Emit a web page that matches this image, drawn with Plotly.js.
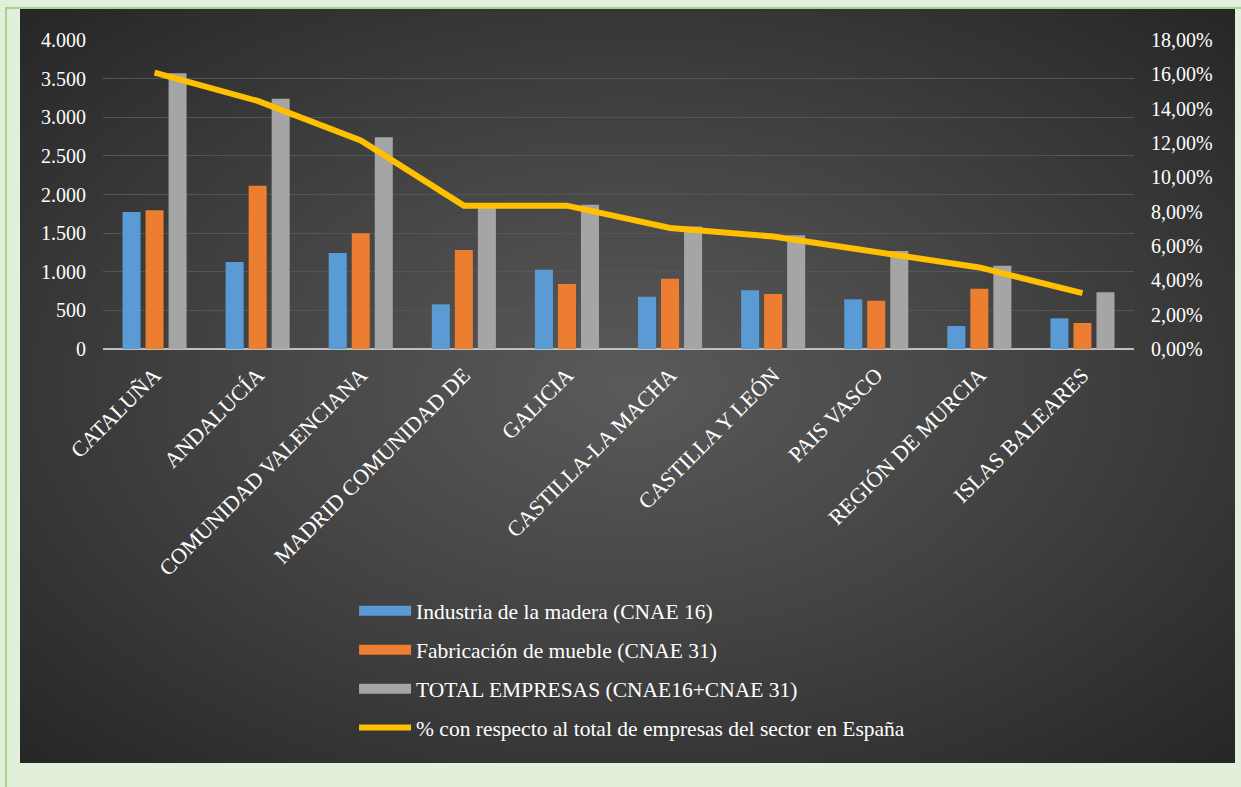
<!DOCTYPE html>
<html>
<head>
<meta charset="utf-8">
<script src="https://cdn.plot.ly/plotly-3.0.1.min.js"></script>
<style>
html,body{margin:0;padding:0;}
#wrap{position:relative;width:1241px;height:787px;background:#e2efda;overflow:hidden;}
#topline{position:absolute;left:5px;top:7px;width:1236px;height:2px;background:#a9d08e;}
#leftline{position:absolute;left:5px;top:7px;width:2px;height:780px;background:#a9d08e;}
#dark{position:absolute;left:20px;top:9px;width:1215px;height:754px;
 background:radial-gradient(ellipse at 50% 50%, #5a5a5a 0%, #444 45%, #262626 100%);}
#chart{position:absolute;left:0;top:0;width:1241px;height:787px;}
</style>
</head>
<body>
<div id="wrap">
<div id="topline"></div>
<div id="leftline"></div>
<div id="dark"></div>
<div id="chart"></div>
</div>
<script>
const categories = ["CATALUÑA","ANDALUCÍA","COMUNIDAD VALENCIANA","MADRID COMUNIDAD DE","GALICIA","CASTILLA-LA MACHA","CASTILLA Y LEÓN","PAIS VASCO","REGIÓN DE MURCIA","ISLAS BALEARES"];
const madera = [1773,1126,1243,578,1027,677,760,643,298,397];
const mueble = [1795,2114,1497,1282,841,910,712,625,781,337];
const total = [3568,3240,2740,1860,1868,1587,1472,1268,1079,734];
const porcentaje = [0.161,0.1445,0.1215,0.0835,0.0835,0.0705,0.0655,0.0565,0.0475,0.0325];
const seriesNames = ["Industria de la madera (CNAE 16)","Fabricación de mueble (CNAE 31)","TOTAL EMPRESAS (CNAE16+CNAE 31)","% con respecto al total de empresas del sector en España"];
const colors = ["#5b9bd5","#ed7d31","#a5a5a5","#ffc000"];

const font = "Times New Roman, Liberation Serif, DejaVu Serif, serif";
const barData = [madera, mueble, total];
const traces = [];
barData.forEach((vals, i) => {
  traces.push({type:'bar', x:categories, y:vals, name:seriesNames[i], marker:{color:colors[i]}, showlegend:false});
});
traces.push({type:'scatter', mode:'lines', x:categories, y:porcentaje, yaxis:'y2', name:seriesNames[3], line:{color:colors[3], width:6}, showlegend:false});
// legend-only entries (wide swatches like the original legend)
seriesNames.forEach((n, i) => {
  traces.push({type:'scatter', mode:'lines', x:[null], y:[null], name:n, legendgroup:'g'+i,
    line:{color:colors[i], width: i < 3 ? 10 : 6}, showlegend:true, hoverinfo:'skip'});
});

const layout = {
 width:1241, height:787,
 paper_bgcolor:'rgba(0,0,0,0)', plot_bgcolor:'rgba(0,0,0,0)',
 margin:{l:103, r:107, t:40, b:438, autoexpand:false},
 font:{family:font, color:'#ffffff', size:19},
 barmode:'group', bargap:0.33, bargroupgap:0.217,
 showlegend:true,
 legend:{xref:'container', yref:'container', x:0.2853, y:0.25, xanchor:'left', yanchor:'top',
   font:{family:font, size:21.5, color:'#ffffff'}, traceorder:'grouped', tracegroupgap:8,
   bgcolor:'rgba(0,0,0,0)', itemwidth:52},
 xaxis:{type:'category', tickangle:-45, tickfont:{family:font, size:22, color:'#ffffff'},
   showgrid:false, zeroline:false, showline:false, ticks:'', fixedrange:true, automargin:false, ticklabelstandoff:8},
 yaxis:{range:[0,4000], dtick:500, tickformat:',d', automargin:false,
   tickfont:{family:font, size:20, color:'#ffffff'}, gridcolor:'#555555', gridwidth:1,
   zeroline:true, zerolinecolor:'#bfbfbf', zerolinewidth:2, showline:false, ticks:'', ticklabelstandoff:16},
 yaxis2:{overlaying:'y', side:'right', range:[0,0.18], dtick:0.02, tickformat:'.2%', automargin:false,
   tickfont:{family:font, size:20, color:'#ffffff'}, showgrid:false, zeroline:false, showline:false, ticks:'', ticklabelstandoff:16},
 separators:',.'
};
Plotly.newPlot('chart', traces, layout, {displayModeBar:false, staticPlot:true});
</script>
</body>
</html>
